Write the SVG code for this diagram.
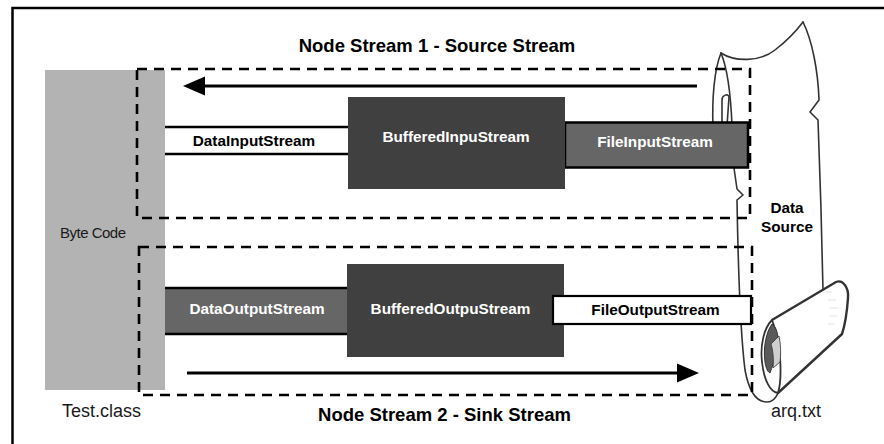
<svg xmlns="http://www.w3.org/2000/svg" width="884" height="444" viewBox="0 0 884 444">
  <style>
    .lbl { font-family: "Liberation Sans", Arial, sans-serif; font-weight: bold; font-size: 15.3px; text-anchor: middle; }
    .light { fill: #ffffff; }
    .dark { fill: #000000; }
    .title { font-family: "Liberation Sans", Arial, sans-serif; font-weight: bold; font-size: 18.5px; text-anchor: middle; fill: #000; }
    .plain { font-family: "Liberation Sans", Arial, sans-serif; fill: #1a1a1a; }
    .dash { fill: none; stroke: #000; stroke-width: 2.6; stroke-dasharray: 10 7; }
    .scroll { fill: none; stroke: #333; stroke-width: 1.6; stroke-linejoin: round; stroke-linecap: round; }
    .flow { stroke: #000; stroke-width: 3; fill: none; }
    .band { stroke: #000; stroke-width: 2.5; }
  </style>

  <rect width="884" height="444" fill="#ffffff"/>

  <!-- outer frame (runs off the right and bottom edges) -->
  <rect x="12.5" y="8" width="900" height="480" fill="none" stroke="#000" stroke-width="2.5"/>

  <!-- Test.class byte code block -->
  <g id="bytecode">
    <rect x="45" y="70" width="120" height="320" fill="#b3b3b3"/>
    <text class="plain" x="60" y="238" font-size="15" letter-spacing="-0.5">Byte Code</text>
    <text class="plain" x="62" y="417" font-size="18">Test.class</text>
  </g>

  <!-- data source scroll -->
  <g id="datasource">
    <!-- main sheet -->
    <path fill="#ffffff" stroke="none" d="M721,53 C735,62 760,62 775,50 C788,40 797,30 803,22 C812,40 818,70 819,100 L810,112 L818,120 C820,170 822,240 823,290 L772,320 C764,340 760,370 766,390 L767,402 C756,402 748,392 745,370 C740,330 738,260 737,200 L743,195 L737,189 L734,168 L732,122 C731,100 728,70 721,53 Z"/>
    <path class="scroll" stroke-width="2.6" d="M721,53 C735,62 760,62 775,50 C788,40 797,30 803,22"/>
    <path class="scroll" d="M803,22 C812,40 818,70 819,100 L810,112 L818,120 C820,170 822,240 823,290"/>
    <!-- left curl of the sheet -->
    <path class="scroll" d="M721,53 C714,70 712,100 713,126"/>
    <path class="scroll" d="M721,53 C728,70 731,100 732,126 L734,168 L737,189 L743,195 L737,200 C738,260 740,330 745,370 C749,392 757,402 767,402 C772,402 776,398 778,393"/>
    <path class="scroll" d="M722,126 L722,100 C722,95 728,93 729,97 L727,126"/>
    <!-- roll -->
    <path fill="#ffffff" stroke="#333" stroke-width="2.4" stroke-linejoin="round" d="M772,320 L836,282 C843,279 849,288 848,298 C847,312 845,325 842,334 L778,393"/>
    <path fill="#ffffff" stroke="#333" stroke-width="1.8" d="M772,320 C764,328 760,345 762,362 C764,380 770,392 778,393 C782,380 782,345 772,320 Z"/>
    <path fill="#5a5a5a" stroke="#333" stroke-width="1" d="M772,324 C766,332 763,348 765,362 C766,369 768,372 770,373 C774,362 779,345 778,337 C777,330 775,326 772,324 Z"/>
    <path fill="#cfcfcf" stroke="#333" stroke-width="0.8" d="M771,344 L779,336 C781,345 781,355 780,362 L773,368 C774,360 773,350 771,344 Z"/>
    <!-- faint shading on the roll -->
    <g stroke="#e2e2e2" stroke-width="1">
      <line x1="826" y1="292" x2="832" y2="292"/>
      <line x1="828" y1="300" x2="836" y2="300"/>
      <line x1="829" y1="308" x2="838" y2="308"/>
      <line x1="829" y1="316" x2="837" y2="316"/>
      <line x1="828" y1="324" x2="835" y2="324"/>
    </g>
    <text class="lbl dark" x="787" y="213" font-size="14.5">Data</text>
    <text class="lbl dark" x="787" y="232" font-size="14.5">Source</text>
    <text class="plain" x="796" y="417" font-size="18" text-anchor="middle">arq.txt</text>
  </g>

  <!-- node stream frames -->
  <g id="node-stream-1">
    <rect class="dash" x="137" y="69" width="613" height="149"/>
    <text class="title" x="437" y="52">Node Stream 1 - Source Stream</text>
  </g>
  <g id="node-stream-2">
    <rect class="dash" x="139" y="247" width="613" height="148"/>
    <text class="title" x="444.5" y="421">Node Stream 2 - Sink Stream</text>
  </g>

  <!-- flow arrows -->
  <g id="connectors">
    <line class="flow" x1="697" y1="86" x2="203" y2="86"/>
    <polygon points="183,86 205,76.5 205,95.5" fill="#000"/>
    <line class="flow" x1="187" y1="373" x2="679" y2="373"/>
    <polygon points="699,373 677,363.5 677,382.5" fill="#000"/>
  </g>

  <!-- input chain -->
  <g id="fileinputstream">
    <rect x="565" y="122.5" width="183" height="45" fill="#666666" stroke="#000" stroke-width="2.5"/>
    <text class="lbl light" x="655" y="147">FileInputStream</text>
  </g>
  <g id="datainputstream">
    <rect x="165" y="127" width="183" height="27" fill="#ffffff"/>
    <line class="band" x1="165" y1="127" x2="348" y2="127"/>
    <line class="band" x1="165" y1="154" x2="348" y2="154"/>
    <text class="lbl dark" x="254" y="146">DataInputStream</text>
  </g>
  <g id="bufferedinputstream">
    <rect x="348" y="97" width="217" height="92" fill="#404040"/>
    <text class="lbl light" x="456" y="142">BufferedInpuStream</text>
  </g>

  <!-- output chain -->
  <g id="dataoutputstream">
    <rect x="165" y="288" width="183" height="46" fill="#666666"/>
    <line class="band" x1="165" y1="288" x2="348" y2="288"/>
    <line class="band" x1="165" y1="334" x2="348" y2="334"/>
    <text class="lbl light" x="257" y="314">DataOutputStream</text>
  </g>
  <g id="bufferedoutputstream">
    <rect x="347" y="264" width="217" height="93" fill="#404040"/>
    <text class="lbl light" x="450.5" y="314">BufferedOutpuStream</text>
  </g>
  <g id="fileoutputstream">
    <rect x="553" y="296" width="198" height="28" fill="#ffffff" stroke="#000" stroke-width="2.2"/>
    <text class="lbl dark" x="655.5" y="315">FileOutputStream</text>
  </g>
</svg>
